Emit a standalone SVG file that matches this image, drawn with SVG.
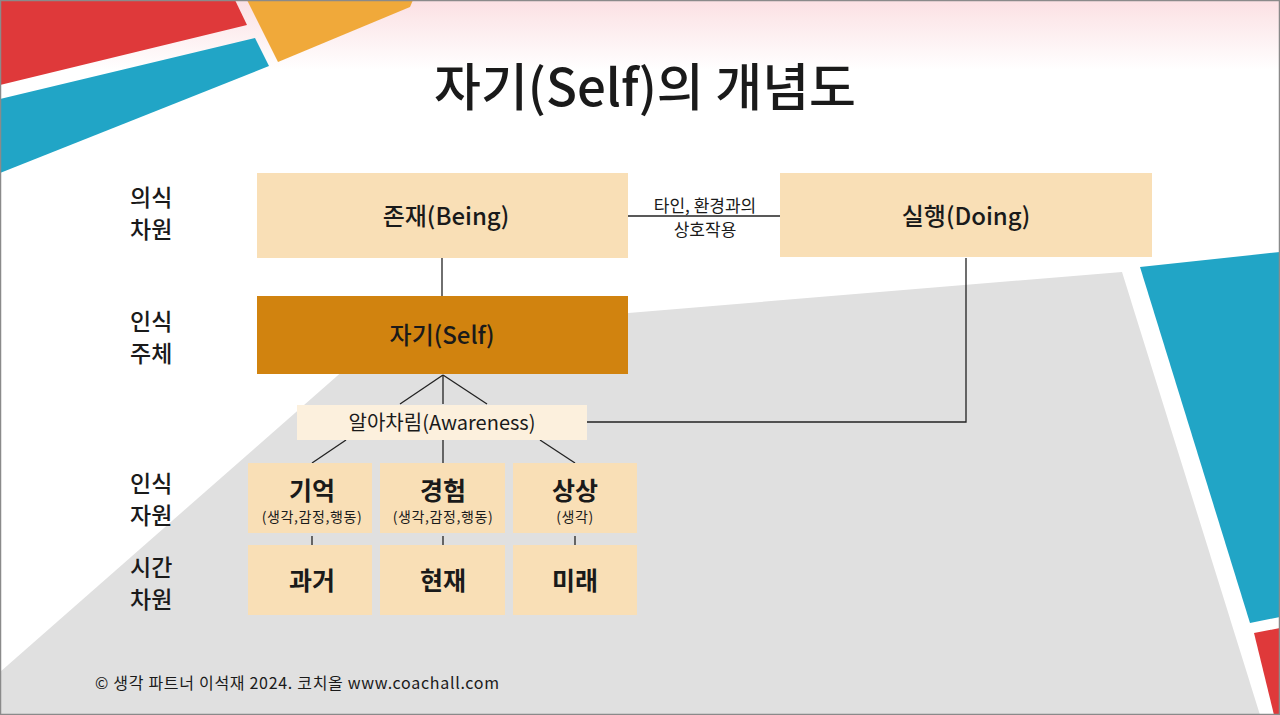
<svg xmlns="http://www.w3.org/2000/svg" width="1280" height="715" viewBox="0 0 1280 715">
<defs>
<linearGradient id="topg" x1="0" y1="0" x2="0" y2="1">
<stop offset="0" stop-color="#fbe0e3"/>
<stop offset="1" stop-color="#ffffff"/>
</linearGradient>
</defs>
<style>
text{font-family:"Noto Sans CJK KR","Noto Sans",sans-serif;fill:#1a1a1a}
.box{fill:#f9dfb6}
.self{fill:#d1830f}
.aw{fill:#fcf0dd}
.nt{font-size:24px;font-weight:500;text-anchor:middle}
.big{font-size:25px;font-weight:700;text-anchor:middle}
.sub{font-size:14px;text-anchor:middle;letter-spacing:0.6px}
.side{font-size:23px;font-weight:500}
.ln{stroke:#222;stroke-width:1.3;fill:none}
</style>
<rect width="1280" height="715" fill="#ffffff"/>
<rect x="0" y="0" width="1280" height="70" fill="url(#topg)"/>
<g id="decor">
<polygon points="0,672 386,333 1122,272 1260,715 0,715" fill="#e0e0e0"/>
<polygon points="0,0 235,0 247,25 0,85" fill="#df393a"/>
<polygon points="0,99 255,38 269,66 0,173" fill="#21a5c6"/>
<polygon points="247,0 413,0 410,7 278,62" fill="#f0a93a"/>
<polygon points="1140,267 1280,252 1280,617 1250,623" fill="#21a5c6"/>
<polygon points="1254,633 1280,628 1280,715 1274,715" fill="#df393a"/>
</g>
<rect x="0.5" y="0.5" width="1279" height="714" fill="none" stroke="#8a8a8a" stroke-width="1.5"/>
<text x="645" y="106" font-size="51" font-weight="500" text-anchor="middle">자기(Self)의 개념도</text>
<g id="labels">
<text class="side" x="130" y="206">의식</text>
<text class="side" x="130" y="238">차원</text>
<text class="side" x="130" y="330">인식</text>
<text class="side" x="130" y="362">주체</text>
<text class="side" x="130" y="492">인식</text>
<text class="side" x="130" y="524">자원</text>
<text class="side" x="130" y="576">시간</text>
<text class="side" x="130" y="608">차원</text>
</g>
<g id="connectors">
<line class="ln" x1="628" y1="216" x2="780" y2="216"/>
<line class="ln" x1="442" y1="258" x2="442" y2="296"/>
<polyline class="ln" points="587,422 966,422 966,258"/>
<line class="ln" x1="443" y1="375" x2="400" y2="404"/>
<line class="ln" x1="443" y1="375" x2="443" y2="404"/>
<line class="ln" x1="443" y1="375" x2="487" y2="404"/>
<line class="ln" x1="346" y1="440" x2="312" y2="463"/>
<line class="ln" x1="443" y1="440" x2="443" y2="463"/>
<line class="ln" x1="540" y1="440" x2="575" y2="463"/>
<line class="ln" x1="312" y1="536" x2="312" y2="545"/>
<line class="ln" x1="443" y1="536" x2="443" y2="545"/>
<line class="ln" x1="575" y1="536" x2="575" y2="545"/>
<text x="705" y="212" font-size="17" text-anchor="middle">타인, 환경과의</text>
<text x="705" y="236" font-size="17" text-anchor="middle">상호작용</text>
</g>
<g id="being"><rect class="box" x="257" y="173" width="371" height="85"/><text class="nt" x="446" y="225">존재(Being)</text></g>
<g id="doing"><rect class="box" x="780" y="173" width="372" height="84"/><text class="nt" x="966" y="225">실행(Doing)</text></g>
<g id="self"><rect class="self" x="257" y="296" width="371" height="78"/><text class="nt" x="442" y="344">자기(Self)</text></g>
<g id="awareness"><rect class="aw" x="297" y="405" width="290" height="35"/><text x="442" y="430" font-size="20" text-anchor="middle">알아차림(Awareness)</text></g>
<g id="memory"><rect class="box" x="248" y="463" width="124" height="70"/><text class="big" x="312" y="500">기억</text><text class="sub" x="312" y="522">(생각,감정,행동)</text></g>
<g id="experience"><rect class="box" x="380" y="463" width="125" height="70"/><text class="big" x="443" y="500">경험</text><text class="sub" x="443" y="522">(생각,감정,행동)</text></g>
<g id="imagination"><rect class="box" x="513" y="463" width="124" height="70"/><text class="big" x="575" y="500">상상</text><text class="sub" x="575" y="522">(생각)</text></g>
<g id="past"><rect class="box" x="248" y="545" width="124" height="70"/><text class="big" x="312" y="590">과거</text></g>
<g id="present"><rect class="box" x="380" y="545" width="125" height="70"/><text class="big" x="443" y="590">현재</text></g>
<g id="future"><rect class="box" x="513" y="545" width="124" height="70"/><text class="big" x="575" y="590">미래</text></g>
<text x="95" y="689" font-size="16" letter-spacing="0.7" fill="#222">© 생각 파트너 이석재 2024. 코치올 www.coachall.com</text>
</svg>
